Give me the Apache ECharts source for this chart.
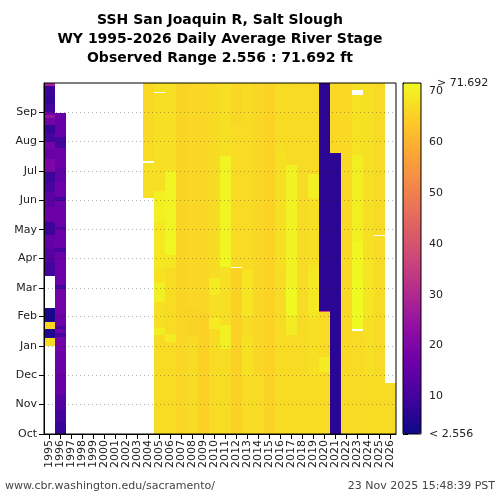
<!DOCTYPE html>
<html>
<head>
<meta charset="utf-8">
<script src="https://cdn.jsdelivr.net/npm/echarts@6/dist/echarts.min.js"></script>
<style>html,body{margin:0;padding:0;background:#fff}#c{width:500px;height:500px}</style>
</head>
<body>
<div id="c"></div>
<script>
// ---- categories ----
const years = ['1995','1996','1997','1998','1999','2000','2001','2002','2003','2004','2005','2006','2007','2008','2009','2010',
  '2011','2012','2013','2014','2015','2016','2017','2018','2019','2020','2021','2022','2023','2024','2025','2026'];
const months = ['Oct','Nov','Dec','Jan','Feb','Mar','Apr','May','Jun','Jul','Aug','Sep'];
const monthStartDays = [0,31,61,92,123,152,183,213,244,274,305,336];
const daysInYear = 366;
const colorbarTicks = [2.556,10,20,30,40,50,60,70,71.692];
const colorbarLabels = [2.556,10,20,30,40,50,60,70];
const stageMin = 2.556, stageMax = 71.692;

// ---- daily stage runs per water year: [firstDay, lastDay, stage ft] (day 0 = Oct 1) ----
const wy1995 = [[92,99,67],[100,108,5],[109,116,66],[117,130,4],
  [165,178,10],[179,192,13],[193,206,15],[207,220,9],[221,236,17],[237,251,14],[252,262,11],[263,272,9],
  [273,286,20],[287,296,16],[297,304,18],[305,313,10],[314,321,8],[322,329,18],[330,332,25],[333,335,17],
  [336,343,10],[344,350,8],[351,362,9],[363,365,28]];
const wy1996 = [[0,12,8],[13,25,10],[26,40,13],[41,60,16],[61,85,17],[86,100,18],[101,104,11],[105,108,17],[109,112,11],
  [113,125,17],[126,150,18],[151,154,10],[155,189,17],[190,193,11],[194,213,17],[214,215,11],[216,242,17],[243,246,10],
  [247,262,17],[263,276,15],[277,297,17],[298,309,10],[310,334,16]];
const wy2004 = [[246,282,67.5],[285,300,67],[301,365,66.5]];
const wy2005 = [[0,102,67],[103,110,70],[111,137,67.5],[138,158,70.3],[159,172,68],[173,220,69],[221,252,70.3],[253,355,67.5],[357,365,67.5]];
const wy2006 = [[0,95,67],[96,103,69.5],[104,172,67],[173,186,68.5],[187,200,71.6],[201,273,70.8],[274,365,67.5]];
const wy2007 = [[0,120,66.3],[121,365,65.8]];
const wy2008 = [[0,100,66.8],[101,130,65.8],[131,365,66.3]];
const wy2009 = [[0,125,65.3],[126,365,66.3]];
const wy2010 = [[0,60,66.8],[61,109,67],[110,120,69.5],[121,144,67.5],[145,162,69.5],[163,365,67]];
const wy2011 = [[0,88,67],[89,113,70.3],[114,173,67.5],[174,186,71.3],[187,289,70.8],[290,365,67.5]];
const wy2012 = [[0,172,65.3],[174,320,66.8],[321,365,66.3]];
const wy2013 = [[0,60,67],[61,100,68],[101,122,66.8],[123,170,68.5],[171,365,67]];
const wy2014 = [[0,60,66.8],[61,365,66.3]];
const wy2015 = [[0,365,65.6]];
const wy2016 = [[0,170,66.8],[171,300,67.5],[301,365,66.8]];
const wy2017 = [[0,102,67],[103,123,69.5],[124,152,71.5],[153,280,70.5],[281,365,67]];
const wy2018 = [[0,60,67],[61,365,66.8]];
const wy2019 = [[0,60,67],[61,120,67.5],[121,175,69],[176,245,67.5],[246,270,70.3],[271,365,67]];
const wy2020 = [[0,64,67],[65,79,69.5],[80,126,67],[127,127,38],[128,365,6.5]];
const wy2021 = [[0,292,6.5],[293,365,66.5]];
const wy2022 = [[0,60,66.8],[61,365,66.5]];
const wy2023 = [[0,106,66.8],[109,160,71.5],[161,200,71],[201,290,70],[291,353,68],[359,365,67.5]];
const wy2024 = [[0,60,67],[61,120,67.5],[121,180,68.5],[181,365,67.5]];
const wy2025 = [[0,60,67],[61,205,66.8],[207,365,66.8]];
const wy2026 = [[0,52,66.8]];

const runsByYear = {
  '1995': wy1995, '1996': wy1996, '2004': wy2004, '2005': wy2005, '2006': wy2006, '2007': wy2007,
  '2008': wy2008, '2009': wy2009, '2010': wy2010, '2011': wy2011, '2012': wy2012, '2013': wy2013,
  '2014': wy2014, '2015': wy2015, '2016': wy2016, '2017': wy2017, '2018': wy2018, '2019': wy2019,
  '2020': wy2020, '2021': wy2021, '2022': wy2022, '2023': wy2023, '2024': wy2024, '2025': wy2025, '2026': wy2026
};

const plasma = ['#0d0887','#41049d','#6a00a8','#8f0da4','#b12a90','#cc4778','#e16462','#f2844b','#fca636','#fcce25','#f0f921'];

const seriesData = [];
years.forEach((y, xi) => {
  (runsByYear[y] || []).forEach(r => seriesData.push([xi, r[0], r[1], r[2]]));
});

const FONT = 'DejaVu Sans';
const chart = echarts.init(document.getElementById('c'), null, {renderer: 'canvas'});

chart.setOption({
  animation: false,
  backgroundColor: '#fff',
  textStyle: {fontFamily: FONT},
  grid: [
    {left: 44, top: 83, width: 352, height: 351, show: true, borderColor: '#000', borderWidth: 1, backgroundColor: 'transparent', z: 10},
    {left: 403, top: 83, width: 18, height: 351, show: true, borderColor: '#000', borderWidth: 1, backgroundColor: 'transparent', z: 10}
  ],
  xAxis: [
    {type: 'category', gridIndex: 0, data: years, boundaryGap: true,
      axisLine: {show: true, lineStyle: {color: '#000'}},
      axisTick: {show: true, alignWithLabel: true, length: 5, lineStyle: {color: '#000'}},
      axisLabel: {interval: 0, rotate: 90, fontSize: 11, color: '#222', fontFamily: FONT, margin: 6},
      splitLine: {show: false}},
    {type: 'value', gridIndex: 1, show: false, min: 0, max: 1}
  ],
  yAxis: [
    {type: 'value', gridIndex: 0, min: 0, max: daysInYear, z: 5,
      axisLine: {show: true, lineStyle: {color: '#000'}},
      axisTick: {show: true, length: 5, customValues: monthStartDays, lineStyle: {color: '#000'}},
      axisLabel: {customValues: monthStartDays, fontSize: 11, color: '#222', fontFamily: FONT, margin: 7,
        showMinLabel: true, hideOverlap: false,
        formatter: (v) => months[monthStartDays.indexOf(Math.round(v))]},
      splitLine: {show: true, lineStyle: {color: 'rgba(0,0,0,0.3)', type: [1, 3], width: 1}}},
    {type: 'value', gridIndex: 1, position: 'right', min: stageMin, max: stageMax,
      axisLine: {show: true, lineStyle: {color: '#000'}},
      axisTick: {show: true, length: 5, customValues: colorbarTicks, lineStyle: {color: '#000'}},
      axisLabel: {show: true, customValues: colorbarLabels, fontSize: 11, color: '#222', fontFamily: FONT, margin: 8,
        hideOverlap: false, showMinLabel: true, showMaxLabel: true,
        formatter: (v) => {
          if (Math.abs(v - stageMin) < 1e-3) return '< ' + stageMin.toFixed(3);
          return String(Math.round(v));
        }},
      splitLine: {show: false}}
  ],
  visualMap: {
    type: 'continuous', min: stageMin, max: stageMax, dimension: 3, seriesIndex: 0,
    inRange: {color: plasma}, orient: 'vertical', left: 403, top: 83, itemWidth: 18, itemHeight: 351,
    calculable: false, padding: 0, hoverLink: false, text: null, showLabel: false, z: 4
  },
  series: [{
    type: 'custom', xAxisIndex: 0, yAxisIndex: 0, z: 2,
    encode: {x: 0, y: [1, 2]},
    data: seriesData,
    renderItem: function (params, api) {
      const xi = api.value(0), s = api.value(1), e = api.value(2);
      const p0 = api.coord([xi, s]);
      const p1 = api.coord([xi, e + 1]);
      const sz = api.size([1, 1]);
      const left = Math.round(p0[0] - sz[0] / 2);
      const right = Math.round(p0[0] + sz[0] / 2);
      const bottom = Math.round(p0[1]);
      const top = Math.round(p1[1]);
      return {type: 'rect', shape: {x: left, y: top, width: right - left, height: Math.max(1, bottom - top)},
        style: {fill: api.visual('color')}};
    }
  }],
  graphic: [
    {type: 'text', x: 220, y: 20, style: {text: 'SSH San Joaquin R, Salt Slough', textAlign: 'center', textVerticalAlign: 'middle', font: 'bold 14px "DejaVu Sans"', fill: '#000'}},
    {type: 'text', x: 220, y: 39, style: {text: 'WY 1995-2026 Daily Average River Stage', textAlign: 'center', textVerticalAlign: 'middle', font: 'bold 14px "DejaVu Sans"', fill: '#000'}},
    {type: 'text', x: 220, y: 58, style: {text: 'Observed Range 2.556 : 71.692 ft', textAlign: 'center', textVerticalAlign: 'middle', font: 'bold 14px "DejaVu Sans"', fill: '#000'}},
    {type: 'text', x: 437, y: 83, style: {text: '> ' + stageMax.toFixed(3), textAlign: 'left', textVerticalAlign: 'middle', font: '11px "DejaVu Sans"', fill: '#222'}},
    {type: 'text', x: 5, y: 486, style: {text: 'www.cbr.washington.edu/sacramento/', textAlign: 'left', textVerticalAlign: 'middle', font: '11px "DejaVu Sans"', fill: '#444'}},
    {type: 'text', x: 495, y: 486, style: {text: '23 Nov 2025 15:48:39 PST', textAlign: 'right', textVerticalAlign: 'middle', font: '11px "DejaVu Sans"', fill: '#444'}}
  ]
});
</script>
</body>
</html>
